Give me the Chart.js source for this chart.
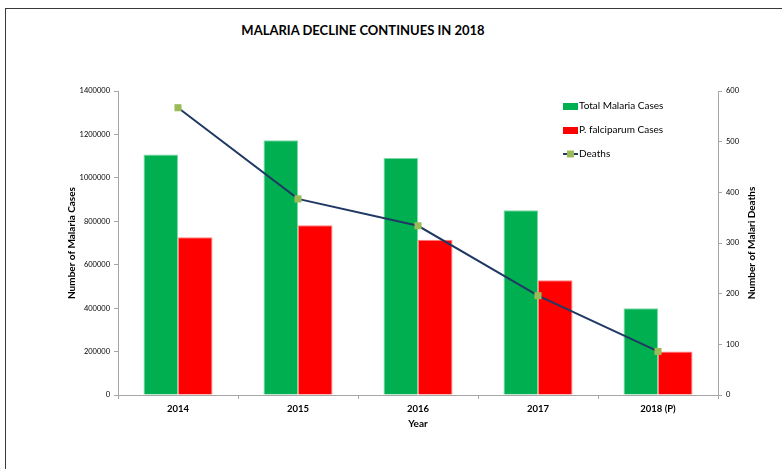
<!DOCTYPE html>
<html>
<head>
<meta charset="utf-8">
<script src="https://cdn.jsdelivr.net/npm/chart.js@4/dist/chart.umd.min.js"></script>
<style>
  html, body { margin: 0; padding: 0; background: #fff; }
  #wrap { position: relative; width: 782px; height: 469px; overflow: hidden; }
  #frame { position: absolute; left: 5px; top: 8px; width: 800px; height: 500px;
           border-top: 1px solid #3a3a3a; border-left: 1px solid #3a3a3a; }
  #title { position: absolute; top: 22px; left: 163px; width: 400px; text-align: center;
           font-family: Lato, sans-serif; font-weight: bold;
           font-size: 13px; color: #000; }
  canvas { position: absolute; left: 0; top: 0; }
</style>
</head>
<body>
<div id="wrap">
  <div id="frame"></div>
  <div id="title">MALARIA DECLINE CONTINUES IN 2018</div>
  <canvas id="c" width="782" height="469"></canvas>
</div>
<script>
const years = ['2014', '2015', '2016', '2017', '2018 (P)'];
const totalCases = [1107000, 1173000, 1091000, 851000, 400000];
const falciparumCases = [727000, 782000, 715000, 529000, 200000];
const deaths = [567, 387, 334, 196, 86];

const FONT = 'Lato, sans-serif';
const rightTitle = 'Number of Malari Deaths';

// Legend drawn inside the plot area, top right
const innerLegend = {
  id: 'innerLegend',
  afterDraw(chart) {
    const ctx = chart.ctx;
    const x0 = 563, y0 = 106, step = 24;
    ctx.save();
    ctx.font = '10px ' + FONT;
    ctx.textBaseline = 'middle';
    chart.data.datasets.forEach((ds, i) => {
      const y = y0 + i * step;
      if (ds.type === 'line') {
        ctx.strokeStyle = ds.borderColor;
        ctx.lineWidth = 2;
        ctx.beginPath(); ctx.moveTo(x0, y); ctx.lineTo(x0 + 15, y); ctx.stroke();
        ctx.fillStyle = ds.pointBackgroundColor;
        ctx.fillRect(x0 + 4, y - 3.5, 7, 7);
      } else {
        ctx.fillStyle = ds.backgroundColor;
        ctx.fillRect(x0, y - 3, 15, 7);
      }
      ctx.fillStyle = '#000';
      ctx.fillText(ds.label, x0 + 16, y);
    });
    ctx.restore();
  }
};

// Secondary axis title, reading bottom to top like the primary one
const rightAxisTitle = {
  id: 'rightAxisTitle',
  afterDraw(chart) {
    const ctx = chart.ctx;
    const s = chart.scales.y2;
    ctx.save();
    ctx.translate(s.right - 6, (s.top + s.bottom) / 2);
    ctx.rotate(-Math.PI / 2);
    ctx.font = 'bold 10px ' + FONT;
    ctx.fillStyle = '#000';
    ctx.textAlign = 'center';
    ctx.textBaseline = 'middle';
    ctx.fillText(rightTitle, 0, 0);
    ctx.restore();
  }
};

new Chart(document.getElementById('c'), {
  data: {
    labels: years,
    datasets: [
      {
        type: 'bar', label: 'Total Malaria Cases', data: totalCases, yAxisID: 'y',
        backgroundColor: '#00B050', borderColor: '#7FD8A7', borderWidth: 1,
        categoryPercentage: 0.575, barPercentage: 1, order: 1
      },
      {
        type: 'bar', label: 'P. falciparum Cases', data: falciparumCases, yAxisID: 'y',
        backgroundColor: '#FF0000', borderColor: '#FF8080', borderWidth: 1,
        categoryPercentage: 0.575, barPercentage: 1, order: 1
      },
      {
        type: 'line', label: 'Deaths', data: deaths, yAxisID: 'y2',
        borderColor: '#1F3864', borderWidth: 2,
        pointStyle: 'rect', pointRadius: 5,
        pointBackgroundColor: '#9BBB59', pointBorderColor: '#9BBB59', pointBorderWidth: 0,
        order: 0
      }
    ]
  },
  options: {
    responsive: false,
    animation: false,
    layout: { padding: { top: 91, bottom: 39, left: 66, right: 24 } },
    plugins: { legend: { display: false }, title: { display: false }, tooltip: { enabled: false } },
    scales: {
      x: {
        grid: { drawOnChartArea: false, drawTicks: true, tickLength: 4, color: '#A6A6A6', offset: true },
        border: { color: '#A6A6A6' },
        ticks: { color: '#000', font: { family: FONT, size: 9.5, weight: 'bold' }, padding: 4 },
        title: { display: true, text: 'Year', color: '#000', font: { family: FONT, size: 10, weight: 'bold' }, padding: { top: 2, bottom: 0 } },
        afterFit(s) { s.height = 35; }
      },
      y: {
        position: 'left', min: 0, max: 1400000,
        grid: { drawOnChartArea: false, drawTicks: true, tickLength: 4, color: '#A6A6A6' },
        border: { color: '#A6A6A6' },
        ticks: { stepSize: 200000, color: '#000', font: { family: FONT, size: 7.5 }, padding: 4,
                 callback: v => String(v) },
        title: { display: true, text: 'Number of Malaria Cases', color: '#000', font: { family: FONT, size: 10, weight: 'bold' }, padding: { top: 0, bottom: 4 } },
        afterFit(s) { s.width = 52; }
      },
      y2: {
        position: 'right', min: 0, max: 600,
        grid: { drawOnChartArea: false, drawTicks: true, tickLength: 4, color: '#A6A6A6' },
        border: { color: '#A6A6A6' },
        ticks: { stepSize: 100, color: '#000', font: { family: FONT, size: 7.5 }, padding: 4 },
        afterFit(s) { s.width = 40; }
      }
    }
  },
  plugins: [innerLegend, rightAxisTitle]
});
</script>
</body>
</html>
